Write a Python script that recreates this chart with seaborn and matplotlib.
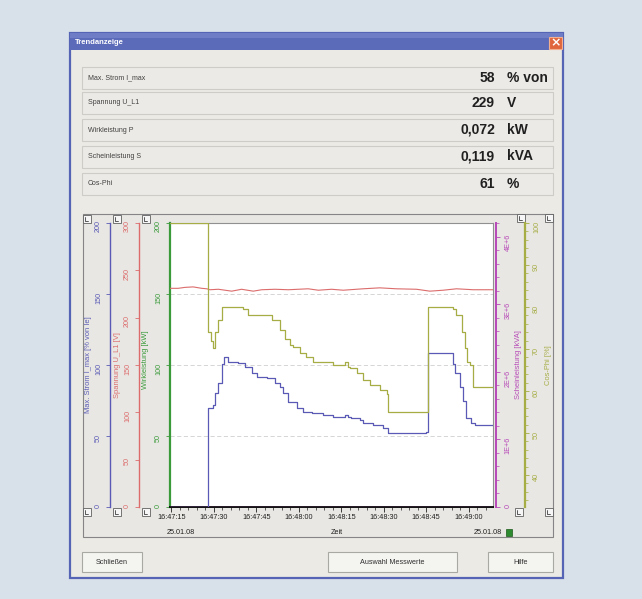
import matplotlib
matplotlib.use('Agg')
import matplotlib.pyplot as plt
import matplotlib.patches as mpatches
from matplotlib.ticker import FixedLocator, MultipleLocator, FuncFormatter
import seaborn as sns

# ---------------- data ----------------
row_labels = ['Max. Strom I_max', 'Spannung U_L1', 'Wirkleistung P', 'Scheinleistung S', 'Cos-Phi']
row_values = ['58', '229', '0,072', '0,119', '61']
row_units = ['% von', 'V', 'kW', 'kVA', '%']

# time in seconds after 16:47:00
time_ticks = [15, 30, 45, 60, 75, 90, 105, 120]
time_tick_labels = ['16:47:15', '16:47:30', '16:47:45', '16:48:00',
                    '16:48:15', '16:48:30', '16:48:45', '16:49:00']
date_label = '25.01.08'

strom_t = [14.5, 28.0, 29.8, 30.4, 31.6, 32.7, 33.6, 35.1, 38.6, 41.0,
           43.3, 45.1, 48.6, 51.6, 53.3, 54.5, 56.3, 59.2, 61.6, 64.5,
           68.6, 72.2, 76.3, 77.5, 78.6, 81.6, 82.8, 86.3, 89.8, 91.6,
           105.1, 105.7, 113.9, 114.5, 115.1, 116.9, 118.0, 119.2, 121.0, 122.2,
           128.6]
strom_v = [0, 69.5, 72, 80, 87, 101, 105.8, 102.3, 101.2, 98.8,
           94.1, 91.8, 90.6, 87.1, 84.7, 80.0, 74.2, 69.5, 67.1, 66.0,
           64.8, 63.6, 64.8, 63.6, 62.4, 61.3, 58.9, 57.7, 55.4, 51.9,
           53.0, 108.2, 108.2, 101, 94.1, 84.7, 75, 62.4, 58.9, 57.7,
           57.7]

cos_t = [14.5, 28.0, 28.9, 29.8, 30.4, 31.6, 32.7, 40.4, 42.2, 50.4,
         53.3, 55.0, 57.0, 58.0, 60.5, 62.7, 65.1, 72.2, 76.3, 77.5,
         78.1, 80.4, 82.8, 85.1, 88.7, 91.0, 91.6, 105.7, 114.5, 115.7,
         117.5, 118.7, 119.3, 120.4, 121.6, 128.6]
cos_v = [100, 74.1, 72, 70.2, 74.1, 77, 80.1, 79.5, 78.1, 77.0,
         74.5, 72.5, 71, 70.5, 69, 68.2, 67.0, 66.2, 67.0, 65.8,
         65.4, 64.2, 62.6, 61.4, 60.2, 59.4, 55.1, 80.1, 79.5, 78.1,
         74.1, 70.2, 67.0, 66.2, 61.0, 61.0]

span_t = [14.5, 17.4, 19.8, 22.7, 25.7, 27.5, 28.6, 31.6, 36.3, 39.8,
          43.9, 46.9, 51.6, 56.3, 63.3, 66.9, 71.6, 75.7, 82.7, 88.6,
          94.5, 101.6, 106.3, 111.0, 115.7, 121.6, 127.5, 128.6]
span_v = [231, 231, 232, 232.5, 231, 230.5, 229.5, 230, 228, 230,
          228, 229.5, 230, 229.5, 230.5, 229, 230, 229, 230.5, 231.5,
          230.5, 230, 228, 229, 230.5, 229.5, 229.5, 229.5]

wirk_t = [14.5, 28.0, 128.6]
wirk_v = [0.0, 0.07, 0.072]

schein_t = [14.5, 28.0, 128.6]
schein_v = [0.0, 0.12, 0.119]

# ---------------- style ----------------
sns.set_theme(style='white')
plt.rcParams['font.family'] = ['Liberation Sans', 'DejaVu Sans']

W, H = 642, 599
BLUE = '#5a5ab6'
RED = '#dc6c6c'
GREEN = '#3a9a3a'
MAG = '#b748b7'
OLIVE = '#a6ad45'
BODY = '#ebeae5'
TICKFS = 5.2
LABFS = 5.4

fig = plt.figure(figsize=(W / 100, H / 100), dpi=100)
fig.patch.set_facecolor('#d8e1e9')

bg = fig.add_axes([0, 0, 1, 1])
bg.set_zorder(-1)
bg.set_xlim(0, W)
bg.set_ylim(H, 0)
bg.axis('off')


def rect(x0, y0, x1, y1, fc, ec='none', lw=0.8, z=1):
    bg.add_patch(mpatches.Rectangle((x0, y0), x1 - x0, y1 - y0, facecolor=fc,
                                    edgecolor=ec, linewidth=lw, zorder=z))


# dialog window
rect(70, 33, 563, 578, BODY, ec='#5564b4', lw=1.6)
rect(70, 33, 563, 50, '#5c6bb9', z=2)
rect(70, 33, 563, 38, '#6e7dc6', z=2)
bg.text(75, 42, 'Trendanzeige', color='white', fontsize=5.5, fontweight='bold',
        va='center', ha='left', zorder=3)
rect(549, 37, 562, 49, '#e0663e', ec='#f3b090', lw=0.8, z=3)
bg.text(555.5, 43, '×', color='white', fontsize=9, fontweight='bold',
        ha='center', va='center', zorder=4, family='DejaVu Sans')

# value rows
row_y = [77.5, 103, 130, 156.5, 183.5]
for yc, lab, val, unit in zip(row_y, row_labels, row_values, row_units):
    rect(82, yc - 11, 553, yc + 11, '#eceae6', ec='#cdccc6', lw=0.8, z=2)
    bg.text(88, yc, lab, fontsize=5, color='#404040', ha='left', va='center', zorder=3)
    bg.text(495, yc, val, fontsize=10, fontweight='bold', color='#202020',
            ha='right', va='center', zorder=3)
    bg.text(507, yc, unit, fontsize=10, fontweight='bold', color='#202020',
            ha='left', va='center', zorder=3)

# chart panel
rect(83, 214, 553, 537, '#e8e7e3', ec='#858585', lw=0.8, z=2)

# buttons
for x0, x1, txt in [(82, 142, 'Schließen'), (328, 457, 'Auswahl Messwerte'), (488, 553, 'Hilfe')]:
    rect(x0, 552, x1, 572, '#f4f4f1', ec='#a9a9a4', lw=0.8, z=2)
    bg.text((x0 + x1) / 2, 562, txt, fontsize=5.2, color='#303030',
            ha='center', va='center', zorder=3)

# small axis icons
icons = [(83, 215), (113, 215), (142, 215), (517, 214), (545, 214),
         (83, 508), (113, 508), (142, 508), (515, 508), (545, 508)]
for ix, iy in icons:
    rect(ix, iy, ix + 8, iy + 8, '#f6f6f6', ec='#606060', lw=0.6, z=3)
    bg.plot([ix + 2, ix + 2, ix + 5], [iy + 2, iy + 6, iy + 6], color='#404040', lw=0.6, zorder=4)
rect(506, 529, 512, 536, '#2e8a2e', ec='#1a5a1a', lw=0.5, z=3)

# ---------------- chart ----------------
PL, PT, PR, PB = 170, 223, 493, 507
ax = fig.add_axes([PL / W, 1 - PB / H, (PR - PL) / W, (PB - PT) / H])
ax.set_facecolor('white')
pw = PR - PL


def frac(xpix):
    return (xpix - PL) / pw


TICK_KW = dict(labelsize=TICKFS, labelrotation=90, length=3, width=0.6,
               direction='out', pad=2.8)

# main axes: Wirkleistung (green) scale 0..200
sns.lineplot(x=wirk_t, y=wirk_v, ax=ax, color=GREEN, linewidth=0.9,
             estimator=None, sort=False, drawstyle='steps-post')
ax.set_xlim(14.5, 128.6)
ax.set_ylim(0, 200)
ax.yaxis.set_major_locator(FixedLocator([0, 50, 100, 150, 200]))
ax.tick_params(axis='y', colors=GREEN, **TICK_KW)
ax.yaxis.grid(True, linestyle=(0, (5, 3)), color='#cfcfcf', linewidth=0.6)
ax.xaxis.grid(False)
ax.spines['left'].set_color(GREEN)
ax.spines['left'].set_linewidth(1.6)
ax.spines['bottom'].set_color('#101010')
ax.spines['bottom'].set_linewidth(1.4)
ax.spines['top'].set_color('#909090')
ax.spines['top'].set_linewidth(0.8)
ax.spines['right'].set_color('#909090')
ax.spines['right'].set_linewidth(0.8)
ax.xaxis.set_major_locator(FixedLocator(time_ticks))
ax.set_xticklabels(time_tick_labels)
ax.xaxis.set_minor_locator(MultipleLocator(3))
ax.tick_params(axis='x', which='major', bottom=True, length=3.5, width=0.6,
               labelsize=TICKFS, colors='#202020', pad=1.8, labelrotation=0)
ax.tick_params(axis='x', which='minor', bottom=True, length=1.8, width=0.5, colors='#202020')
ax.set_xlabel('')
ax.set_ylabel('')
ax.text(frac(146), 0.52, 'Wirkleistung [kW]', transform=ax.transAxes, rotation=90,
        ha='center', va='center', fontsize=LABFS, color=GREEN, clip_on=False)


def make_twin(side, xpix, color, lim, major, label, label_x, minor=None,
              fmt=None, lw=1.0):
    a = ax.twinx()
    for s in ['top', 'bottom', 'left', 'right']:
        a.spines[s].set_visible(False)
    a.spines[side].set_visible(True)
    a.spines[side].set_position(('axes', frac(xpix)))
    a.spines[side].set_color(color)
    a.spines[side].set_linewidth(lw)
    if side == 'left':
        a.yaxis.tick_left()
    else:
        a.yaxis.tick_right()
    a.set_ylim(*lim)
    a.yaxis.set_major_locator(FixedLocator(major))
    if fmt is not None:
        a.yaxis.set_major_formatter(FuncFormatter(fmt))
    if minor is not None:
        a.yaxis.set_minor_locator(MultipleLocator(minor))
        a.tick_params(axis='y', which='minor', length=1.8, width=0.5,
                      colors=color, direction='out')
    a.tick_params(axis='y', which='major', colors=color, **TICK_KW)
    a.grid(False)
    a.text(frac(label_x), 0.5, label, transform=a.transAxes, rotation=90,
           ha='center', va='center', fontsize=LABFS, color=color, clip_on=False)
    return a


ax_strom = make_twin('left', 110, BLUE, (0, 200), [0, 50, 100, 150, 200],
                     'Max. Strom I_max [% von Ie]', 89)
ax_span = make_twin('left', 139, RED, (0, 300), [0, 50, 100, 150, 200, 250, 300],
                    'Spannung U_L1 [V]', 118)
ax_schein = make_twin('right', 496.5, MAG, (0, 4.2e6), [0, 1e6, 2e6, 3e6, 4e6],
                      'Scheinleistung [kVA]', 518, minor=2e5,
                      fmt=lambda v, _: '0' if v == 0 else f'{int(round(v / 1e6))}E+6', lw=1.4)
ax_cos = make_twin('right', 525, OLIVE, (32.4, 100), [40, 50, 60, 70, 80, 90, 100],
                   'Cos-Phi [%]', 548, minor=2, lw=1.6)

sns.lineplot(x=span_t, y=span_v, ax=ax_span, color=RED, linewidth=0.8,
             estimator=None, sort=False)
sns.lineplot(x=cos_t, y=cos_v, ax=ax_cos, color=OLIVE, linewidth=0.9,
             estimator=None, sort=False, drawstyle='steps-post')
sns.lineplot(x=strom_t, y=strom_v, ax=ax_strom, color=BLUE, linewidth=0.9,
             estimator=None, sort=False, drawstyle='steps-post')
sns.lineplot(x=schein_t, y=schein_v, ax=ax_schein, color=MAG, linewidth=0.9,
             estimator=None, sort=False, drawstyle='steps-post')

for a in (ax_strom, ax_span, ax_schein, ax_cos):
    a.set_ylabel('')
    a.set_xlabel('')
ax_span.set_ylim(0, 300)
ax_cos.set_ylim(32.4, 100)
ax_strom.set_ylim(0, 200)
ax_schein.set_ylim(0, 4.2e6)
ax.set_xlim(14.5, 128.6)

# x-axis caption texts
bg.text(167, 533, date_label, fontsize=TICKFS, color='#202020', ha='left', va='center', zorder=3)
bg.text(502, 533, date_label, fontsize=TICKFS, color='#202020', ha='right', va='center', zorder=3)
bg.text(337, 533, 'Zeit', fontsize=TICKFS, color='#202020', ha='center', va='center', zorder=3)

fig.savefig('out.png', dpi=100, facecolor=fig.get_facecolor())
